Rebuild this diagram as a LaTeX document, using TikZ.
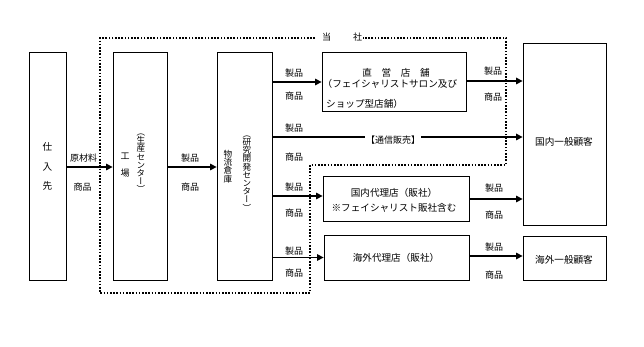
\documentclass[tikz,border=0pt]{standalone}
\usepackage{fontspec}
\newfontfamily\jp{Noto Sans CJK JP}
\newfontfamily\vjp[RawFeature=+vert]{Noto Sans CJK JP}
\usetikzlibrary{arrows.meta}
\begin{document}
\begin{tikzpicture}[x=1pt,y=-1pt,
  box/.style={draw, line width=0.8pt, inner sep=0pt},
  lbl/.style={font={\jp\fontsize{9}{9}\selectfont}, inner sep=0pt},
  btxt/.style={font={\jp\fontsize{9.6}{15}\selectfont}, inner sep=0pt, align=center},
  vtext/.style={font={\vjp\fontsize{8.6}{8.2}\selectfont\lineskiplimit=-20pt}, align=center, inner sep=0pt},
  arr/.style={-{Triangle[length=6.5pt,width=6.5pt]}, line width=1.4pt},
  dotline/.style={line width=1.6pt, dash pattern=on 1.6pt off 1.6pt}]
\useasboundingbox (0,0) rectangle (644,347);
\fill[white] (0,0) rectangle (644,347);
% boxes
\node[box, minimum width=37pt, minimum height=228pt] (shiire) at (47.5,166) {};
\node[box, minimum width=54pt, minimum height=228pt] (koujou) at (140,166) {};
\node[box, minimum width=55pt, minimum height=228pt] (butsu) at (244.5,166) {};
\node[box, minimum width=144pt, minimum height=59pt] (choku) at (394,81.5) {};
\node[box, minimum width=146pt, minimum height=45pt] (kdairi) at (396,198.5) {};
\node[box, minimum width=145pt, minimum height=45pt] (gdairi) at (396.5,257.5) {};
\node[box, minimum width=83pt, minimum height=182pt] (kkyaku) at (564.5,134) {};
\node[box, minimum width=83pt, minimum height=44pt] (gkyaku) at (564.5,258) {};
% box texts
\node[font={\jp\fontsize{9.6}{19.5}\selectfont\lineskiplimit=-20pt}, align=center, inner sep=0pt] (shiireT) at (47.5,166.5) {仕\\入\\先};
\node[font={\jp\fontsize{9}{16.7}\selectfont\lineskiplimit=-20pt}, align=center, inner sep=0pt] (koujouT) at (125,165) {工\\場};
\node[vtext] (koujouV) at (141,163.5) {（\\生\\産\\セ\\ン\\タ\\ー\\）};
\node[font={\jp\fontsize{8.6}{8.3}\selectfont\lineskiplimit=-20pt}, align=center, inner sep=0pt] (butsuT) at (228,166.5) {物\\流\\倉\\庫};
\node[vtext] (butsuV) at (247,173.5) {（\\研\\究\\開\\発\\セ\\ン\\タ\\ー\\）};
\node[btxt] (choku1) at (396,73) {直　営　店　舗};
\node[btxt, anchor=west] (choku2) at (322.5,83.5) {（フェイシャリストサロン及び};
\node[btxt, anchor=west] (choku3) at (326,104) {ショップ型店舗）};
\node[btxt] (kdairiT) at (394,200.5) {国内代理店（販社）\\※フェイシャリスト販社含む};
\node[btxt] (gdairiT) at (396,258) {海外代理店（販社）};
\node[btxt] (kkyakuT) at (564,142) {国内一般顧客};
\node[btxt] (gkyakuT) at (564,260) {海外一般顧客};
% dotted company boundary
\draw[dotline] (315,38) -- (100,38) -- (100,293) -- (310,293) -- (310,165) -- (506,165) -- (506,38) -- (363,38);
\node[lbl] (tousha) at (342,37) {当\hspace{22pt}社};
% arrows
\draw[arr] (shiire.east |- 0,167) -- (koujou.west |- 0,167);
\node[lbl] (l1a) at (83.5,158) {原材料};
\node[lbl] (l1b) at (82.5,187) {商品};
\draw[arr] (koujou.east |- 0,167) -- (butsu.west |- 0,167);
\node[lbl] (l2a) at (190,158) {製品};
\node[lbl] (l2b) at (190,187) {商品};
\draw[arr] (butsu.east |- 0,82) -- (choku.west |- 0,82);
\node[lbl] (l3a) at (294,73) {製品};
\node[lbl] (l3b) at (294,96) {商品};
\draw[arr] (butsu.east |- 0,137) -- (kkyaku.west |- 0,137);
\node[lbl, fill=white, inner sep=1pt] (tsuhan) at (393,140.5) {【通信販売】};
\node[lbl] (l4a) at (294,128) {製品};
\node[lbl] (l4b) at (294,157) {商品};
\draw[arr] (choku.east |- 0,81) -- (kkyaku.west |- 0,81);
\node[lbl] (l5a) at (493,71) {製品};
\node[lbl] (l5b) at (493,97) {商品};
\draw[arr] (butsu.east |- 0,196) -- (kdairi.west |- 0,196);
\node[lbl] (l6a) at (294,187) {製品};
\node[lbl] (l6b) at (294,213) {商品};
\draw[arr] (kdairi.east |- 0,199) -- (kkyaku.west |- 0,199);
\node[lbl] (l7a) at (494,188) {製品};
\node[lbl] (l7b) at (494,215) {商品};
\draw[arr] (butsu.east |- 0,257.5) -- (gdairi.west |- 0,257.5);
\node[lbl] (l8a) at (294,251.5) {製品};
\node[lbl] (l8b) at (294,273) {商品};
\draw[arr] (gdairi.east |- 0,256) -- (gkyaku.west |- 0,256);
\node[lbl] (l9a) at (494,247) {製品};
\node[lbl] (l9b) at (494,275) {商品};
\end{tikzpicture}
\end{document}
